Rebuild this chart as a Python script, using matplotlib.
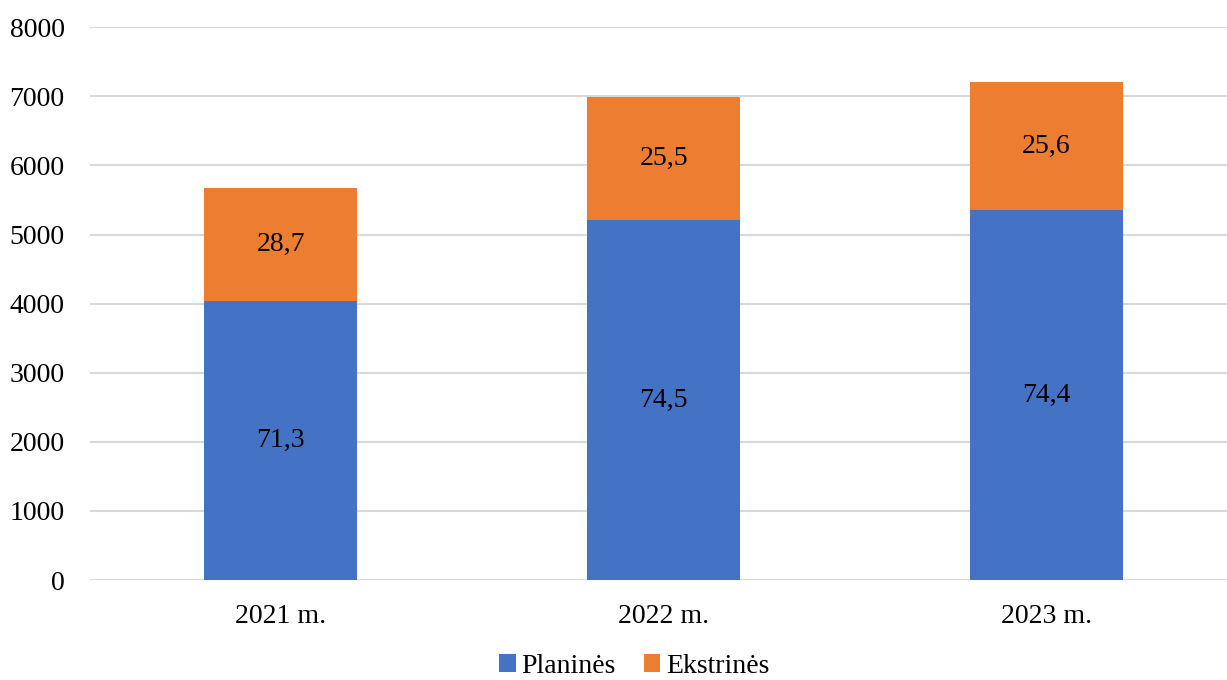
import matplotlib
matplotlib.use("Agg")
import matplotlib.pyplot as plt
import numpy as np

# values
years = ["2021 m.", "2022 m.", "2023 m."]
planines = [4040, 5205, 5355]
ekstrines = [1632, 1782, 1845]
planines_pct = ["71,3", "74,5", "74,4"]
ekstrines_pct = ["28,7", "25,5", "25,6"]

C_BLUE, C_ORANGE = "#4472C4", "#ED7D31"
FS = 20

plt.rcParams["font.family"] = ["Liberation Serif", "DejaVu Serif"]

fig = plt.figure(figsize=(12.27, 6.8), dpi=100)
# right edge runs past the figure, as in the reference
ax = fig.add_axes([0.073, 0.147, 0.9357, 0.813])

x = np.arange(len(years))
b1 = ax.bar(x, planines, width=0.4, color=C_BLUE, label="Planinės", zorder=3)
b2 = ax.bar(x, ekstrines, width=0.4, bottom=planines, color=C_ORANGE,
            label="Ekstrinės", zorder=3)

ax.bar_label(b1, labels=planines_pct, label_type="center", fontsize=FS)
ax.bar_label(b2, labels=ekstrines_pct, label_type="center", fontsize=FS)

ax.set_ylim(0, 8000)
ax.set_xlim(-0.5, 2.5)
ax.set_yticks(range(0, 8001, 1000))
ax.set_xticks(x)
ax.set_xticklabels(years)
ax.tick_params(axis="both", length=0, labelsize=FS)
ax.tick_params(axis="x", pad=17)
ax.tick_params(axis="y", pad=18)

ax.yaxis.grid(True, color="#D9D9D9", linewidth=1.5, zorder=0)
ax.set_axisbelow(True)
for s in ax.spines.values():
    s.set_visible(False)

fig.legend(loc="lower center", bbox_to_anchor=(0.517, -0.035), ncol=2,
           frameon=False, fontsize=FS, handlelength=0.6, handleheight=0.6,
           handletextpad=0.2, columnspacing=1.0)

fig.savefig("out.png", dpi=100)
